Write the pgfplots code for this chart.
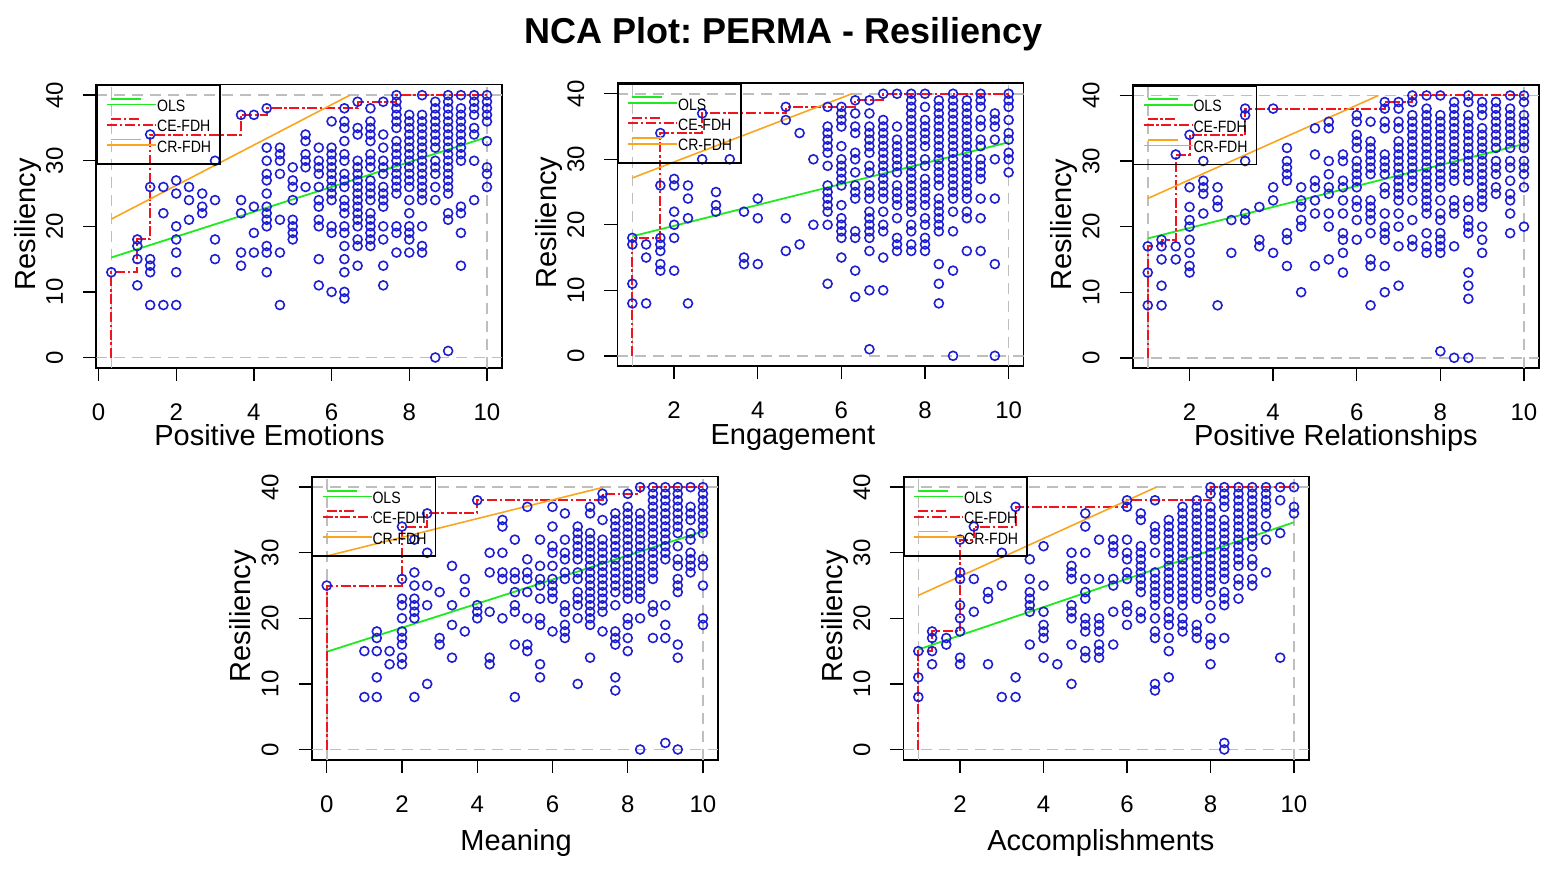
\documentclass[border=0pt]{standalone}
\usepackage{fontspec}
\setmainfont{Liberation Sans}
\newfontfamily\legfont[FakeStretch=0.86]{Liberation Sans}
\usepackage{pgfplots}
\pgfplotsset{compat=1.18}
\frenchspacing
\definecolor{ptblue}{RGB}{30,30,210}
\definecolor{olsgreen}{RGB}{30,235,30}
\definecolor{crorange}{RGB}{250,165,30}
\definecolor{cered}{RGB}{240,20,30}
\definecolor{limgrey}{RGB}{190,190,190}
\pgfplotsset{
 panel/.style={
  scale only axis,
  axis line style={line width=.8pt},
  tick style={black,line width=.7pt},
  tick align=outside, major tick length=6.5pt,
  xtick pos=bottom, ytick pos=left,
  ymin=-1.6,ymax=41.6,ytick={0,10,20,30,40},
  /pgf/number format/assume math mode=true,
  tick label style={font=\fontsize{12}{14}\selectfont},
  xticklabel style={anchor=north,yshift=-7.8pt},
  yticklabel style={rotate=90,anchor=south,yshift=6.5pt},
  ylabel={Resiliency},
  label style={font=\fontsize{14.5}{16}\selectfont},
  ylabel style={at={(axis description cs:-0.168,0.507)},anchor=center,rotate=0},
  legend style={at={(rel axis cs:0,1)},anchor=north west,draw=black,line width=.8pt,fill=none,
    inner xsep=4.5pt,inner ysep=4.5pt,font=\legfont\fontsize{8.2}{9}\selectfont,
    row sep=.2pt,nodes={inner sep=0pt,text height=8.5pt,text depth=1.5pt},cells={anchor=west}},
  legend cell align=left,
  legend image code/.code={\path (0pt,0pt)--(24.5pt,0pt);\draw[##1] (2pt,2.9pt)--(17pt,2.9pt);},
 },
 pts/.style={only marks,mark=o,mark size=2.25pt,mark options={ptblue,line width=.8pt},forget plot},
 lim/.style={limgrey,line width=.75pt,dash pattern=on 5.5pt off 3.5pt,forget plot},
 ols/.style={olsgreen,line width=.9pt,no marks},
 cefdh/.style={cered,line width=1pt,no marks,dash pattern=on 5pt off 1.3pt on 1.3pt off 1.3pt},
 crfdh/.style={crorange,line width=.8pt,no marks},
}
\begin{document}
\begin{tikzpicture}
\path[use as bounding box] (0pt,0pt) rectangle (779.5pt,439pt);
\node[font=\fontsize{18}{20}\selectfont\bfseries,anchor=center] at (391.8pt,421.8pt) {NCA Plot: PERMA - Resiliency};

% ---------- Positive Emotions
\begin{axis}[panel,at={(48.15pt,255pt)},anchor=south west,width=202.85pt,height=141.65pt,
 xmin=-0.057,xmax=10.387,xtick={0,2,4,6,8,10},xlabel={Positive Emotions},
 xlabel style={at={(axis description cs:0.427,-0.272)},anchor=base}]
\addplot[lim] coordinates {(-0.057,0)(10.387,0)};
\addplot[lim] coordinates {(-0.057,40)(10.387,40)};
\addplot[lim] coordinates {(0.33,-1.6)(0.33,41.6)};
\addplot[lim] coordinates {(10,-1.6)(10,41.6)};
\addplot[pts] coordinates {(0.33,13)
(1,18)(1,17)(1,15)(1,11)
(1.33,34)(1.33,26)(1.33,15)(1.33,14)(1.33,13)(1.33,8)
(1.67,26)(1.67,22)(1.67,8)
(2,27)(2,25)(2,20)(2,18)(2,16)(2,13)(2,8)
(2.33,26)(2.33,24)(2.33,21)
(2.67,25)(2.67,23)(2.67,22)
(3,30)(3,24)(3,18)(3,15)
(3.67,37)(3.67,24)(3.67,22)(3.67,16)(3.67,14)
(4,37)(4,23)(4,19)(4,16)
(4.33,38)(4.33,32)(4.33,30)(4.33,28)(4.33,27)(4.33,25)(4.33,23)(4.33,22)(4.33,21)(4.33,20)(4.33,17)(4.33,16)(4.33,13)
(4.67,32)(4.67,31)(4.67,30)(4.67,28)(4.67,21)(4.67,16)(4.67,8)
(5,29)(5,27)(5,26)(5,24)(5,21)(5,20)(5,19)(5,18)
(5.33,34)(5.33,33)(5.33,31)(5.33,30)(5.33,29)(5.33,26)
(5.67,32)(5.67,30)(5.67,29)(5.67,28)(5.67,26)(5.67,24)(5.67,23)(5.67,21)(5.67,20)(5.67,15)(5.67,11)
(6,36)(6,32)(6,31)(6,30)(6,29)(6,28)(6,27)(6,26)(6,25)(6,24)(6,20)(6,19)(6,10)
(6.33,38)(6.33,36)(6.33,35)(6.33,33)(6.33,31)(6.33,30)(6.33,28)(6.33,27)(6.33,26)(6.33,24)(6.33,23)(6.33,22)(6.33,20)(6.33,19)(6.33,17)(6.33,15)(6.33,13)(6.33,10)(6.33,9)
(6.67,39)(6.67,35)(6.67,34)(6.67,30)(6.67,29)(6.67,28)(6.67,27)(6.67,26)(6.67,25)(6.67,24)(6.67,23)(6.67,22)(6.67,21)(6.67,20)(6.67,18)(6.67,17)(6.67,14)
(7,38)(7,36)(7,35)(7,34)(7,33)(7,31)(7,30)(7,29)(7,27)(7,26)(7,25)(7,24)(7,22)(7,21)(7,20)(7,19)(7,18)(7,17)
(7.33,39)(7.33,34)(7.33,32)(7.33,30)(7.33,29)(7.33,28)(7.33,26)(7.33,25)(7.33,24)(7.33,23)(7.33,20)(7.33,18)(7.33,14)(7.33,11)
(7.67,40)(7.67,39)(7.67,38)(7.67,37)(7.67,36)(7.67,35)(7.67,33)(7.67,32)(7.67,31)(7.67,30)(7.67,29)(7.67,28)(7.67,27)(7.67,26)(7.67,25)(7.67,20)(7.67,19)(7.67,16)
(8,37)(8,36)(8,35)(8,34)(8,33)(8,32)(8,31)(8,30)(8,29)(8,28)(8,27)(8,26)(8,24)(8,22)(8,20)(8,19)(8,18)(8,16)
(8.33,40)(8.33,37)(8.33,36)(8.33,35)(8.33,34)(8.33,33)(8.33,32)(8.33,31)(8.33,30)(8.33,29)(8.33,28)(8.33,27)(8.33,26)(8.33,25)(8.33,24)(8.33,20)(8.33,17)(8.33,16)
(8.67,39)(8.67,38)(8.67,37)(8.67,36)(8.67,35)(8.67,34)(8.67,33)(8.67,32)(8.67,30)(8.67,29)(8.67,28)(8.67,26)(8.67,24)(8.67,0)
(9,40)(9,39)(9,38)(9,37)(9,36)(9,35)(9,34)(9,33)(9,32)(9,31)(9,30)(9,29)(9,28)(9,27)(9,26)(9,25)(9,22)(9,21)(9,1)
(9.33,40)(9.33,38)(9.33,37)(9.33,36)(9.33,35)(9.33,34)(9.33,33)(9.33,32)(9.33,31)(9.33,30)(9.33,23)(9.33,22)(9.33,19)(9.33,14)
(9.67,40)(9.67,39)(9.67,38)(9.67,37)(9.67,35)(9.67,34)(9.67,30)(9.67,24)
(10,40)(10,39)(10,38)(10,37)(10,36)(10,33)(10,29)(10,28)(10,26)};
\addplot[ols] coordinates {(0.33,15.25)(10,33.6)};
\addplot[cefdh] coordinates {(0.33,0)(0.33,13)(1,13)(1,18)(1.33,18)(1.33,34)(3.67,34)(3.67,37)(4.33,37)(4.33,38)(6.67,38)(6.67,39)(7.67,39)(7.67,40)(10,40)};
\addplot[crfdh] coordinates {(0.33,21.1)(6.47,40)};
\legend{OLS,CE-FDH,CR-FDH}
\end{axis}

% ---------- Engagement
\begin{axis}[panel,at={(308.65pt,255.85pt)},anchor=south west,width=203.2pt,height=141.5pt,
 xmin=0.64,xmax=10.36,xtick={2,4,6,8,10},xlabel={Engagement},
 xlabel style={at={(axis description cs:0.432,-0.278)},anchor=base}]
\addplot[lim] coordinates {(0.64,0)(10.36,0)};
\addplot[lim] coordinates {(0.64,40)(10.36,40)};
\addplot[lim] coordinates {(1,-1.6)(1,41.6)};
\addplot[lim] coordinates {(10,-1.6)(10,41.6)};
\addplot[pts] coordinates {(1,18)(1,17)(1,11)(1,8)
(1.33,17)(1.33,15)(1.33,8)
(1.67,34)(1.67,26)(1.67,18)(1.67,17)(1.67,16)(1.67,14)(1.67,13)
(2,27)(2,26)(2,22)(2,20)(2,18)(2,13)
(2.33,26)(2.33,24)(2.33,21)(2.33,8)
(2.67,37)(2.67,30)
(3,25)(3,23)(3,22)
(3.33,30)
(3.67,22)(3.67,15)(3.67,14)
(4,24)(4,21)(4,14)
(4.67,38)(4.67,36)(4.67,21)(4.67,16)
(5,34)(5,17)
(5.33,30)(5.33,20)
(5.67,38)(5.67,35)(5.67,34)(5.67,33)(5.67,32)(5.67,31)(5.67,29)(5.67,26)(5.67,25)(5.67,24)(5.67,23)(5.67,22)(5.67,20)(5.67,11)
(6,38)(6,37)(6,36)(6,35)(6,32)(6,30)(6,29)(6,28)(6,27)(6,26)(6,23)(6,21)(6,20)(6,19)(6,18)(6,15)
(6.33,39)(6.33,37)(6.33,35)(6.33,34)(6.33,31)(6.33,30)(6.33,28)(6.33,26)(6.33,25)(6.33,24)(6.33,19)(6.33,18)(6.33,13)(6.33,9)
(6.67,39)(6.67,37)(6.67,35)(6.67,34)(6.67,33)(6.67,32)(6.67,31)(6.67,29)(6.67,28)(6.67,26)(6.67,25)(6.67,24)(6.67,22)(6.67,21)(6.67,20)(6.67,19)(6.67,18)(6.67,16)(6.67,10)(6.67,1)
(7,40)(7,36)(7,35)(7,34)(7,33)(7,32)(7,31)(7,30)(7,29)(7,28)(7,27)(7,26)(7,25)(7,24)(7,22)(7,20)(7,19)(7,15)(7,10)
(7.33,40)(7.33,35)(7.33,33)(7.33,32)(7.33,31)(7.33,30)(7.33,29)(7.33,28)(7.33,26)(7.33,25)(7.33,24)(7.33,23)(7.33,21)(7.33,18)(7.33,17)(7.33,16)
(7.67,40)(7.67,39)(7.67,38)(7.67,37)(7.67,36)(7.67,35)(7.67,34)(7.67,33)(7.67,32)(7.67,31)(7.67,30)(7.67,29)(7.67,28)(7.67,27)(7.67,26)(7.67,25)(7.67,24)(7.67,23)(7.67,22)(7.67,20)(7.67,19)(7.67,17)(7.67,16)
(8,40)(8,38)(8,36)(8,35)(8,34)(8,33)(8,32)(8,30)(8,29)(8,27)(8,26)(8,25)(8,24)(8,23)(8,21)(8,20)(8,18)(8,17)(8,16)
(8.33,39)(8.33,38)(8.33,37)(8.33,36)(8.33,35)(8.33,34)(8.33,33)(8.33,32)(8.33,31)(8.33,30)(8.33,29)(8.33,28)(8.33,27)(8.33,26)(8.33,24)(8.33,23)(8.33,22)(8.33,21)(8.33,20)(8.33,19)(8.33,14)(8.33,11)(8.33,8)
(8.67,40)(8.67,39)(8.67,38)(8.67,37)(8.67,36)(8.67,35)(8.67,34)(8.67,33)(8.67,32)(8.67,31)(8.67,30)(8.67,29)(8.67,28)(8.67,27)(8.67,26)(8.67,25)(8.67,24)(8.67,22)(8.67,19)(8.67,13)(8.67,0)
(9,39)(9,38)(9,37)(9,36)(9,35)(9,34)(9,33)(9,32)(9,31)(9,30)(9,29)(9,28)(9,27)(9,26)(9,25)(9,24)(9,22)(9,21)(9,16)
(9.33,40)(9.33,39)(9.33,38)(9.33,36)(9.33,35)(9.33,33)(9.33,32)(9.33,30)(9.33,29)(9.33,28)(9.33,27)(9.33,24)(9.33,21)(9.33,16)
(9.67,37)(9.67,36)(9.67,35)(9.67,33)(9.67,30)(9.67,24)(9.67,14)(9.67,0)
(10,40)(10,39)(10,38)(10,36)(10,34)(10,33)(10,31)(10,30)(10,28)};
\addplot[ols] coordinates {(1,18.25)(10,32.6)};
\addplot[cefdh] coordinates {(1,0)(1,18)(1.67,18)(1.67,34)(2.67,34)(2.67,37)(4.67,37)(4.67,38)(6.33,38)(6.33,39)(7,39)(7,40)(10,40)};
\addplot[crfdh] coordinates {(1,27.15)(6.25,40)};
\legend{OLS,CE-FDH,CR-FDH}
\end{axis}

% ---------- Positive Relationships
\begin{axis}[panel,at={(566.35pt,254.85pt)},anchor=south west,width=203.15pt,height=141.65pt,
 xmin=0.64,xmax=10.36,xtick={2,4,6,8,10},xlabel={Positive Relationships},
 xlabel style={at={(axis description cs:0.5,-0.271)},anchor=base}]
\addplot[lim] coordinates {(0.64,0)(10.36,0)};
\addplot[lim] coordinates {(0.64,40)(10.36,40)};
\addplot[lim] coordinates {(1,-1.6)(1,41.6)};
\addplot[lim] coordinates {(10,-1.6)(10,41.6)};
\addplot[pts] coordinates {(1,17)(1,13)(1,8)
(1.33,18)(1.33,17)(1.33,15)(1.33,11)(1.33,8)
(1.67,31)(1.67,17)(1.67,15)
(2,34)(2,26)(2,23)(2,21)(2,20)(2,18)(2,16)(2,14)(2,13)
(2.33,30)(2.33,27)(2.33,26)(2.33,25)(2.33,22)
(2.67,26)(2.67,24)(2.67,23)(2.67,8)
(3,21)(3,16)
(3.33,38)(3.33,37)(3.33,30)(3.33,22)(3.33,21)
(3.67,23)(3.67,18)(3.67,17)
(4,38)(4,26)(4,24)(4,16)
(4.33,32)(4.33,30)(4.33,29)(4.33,28)(4.33,27)(4.33,19)(4.33,18)(4.33,14)
(4.67,26)(4.67,24)(4.67,23)(4.67,21)(4.67,20)(4.67,10)
(5,35)(5,31)(5,27)(5,26)(5,24)(5,22)(5,14)
(5.33,36)(5.33,35)(5.33,30)(5.33,28)(5.33,26)(5.33,25)(5.33,22)(5.33,20)(5.33,15)
(5.67,31)(5.67,30)(5.67,27)(5.67,26)(5.67,24)(5.67,22)(5.67,19)(5.67,18)(5.67,16)(5.67,13)
(6,37)(6,36)(6,34)(6,33)(6,32)(6,30)(6,29)(6,28)(6,27)(6,26)(6,24)(6,23)(6,21)(6,18)
(6.33,36)(6.33,33)(6.33,32)(6.33,31)(6.33,30)(6.33,29)(6.33,28)(6.33,24)(6.33,23)(6.33,22)(6.33,21)(6.33,19)(6.33,15)(6.33,14)(6.33,8)
(6.67,39)(6.67,38)(6.67,36)(6.67,35)(6.67,31)(6.67,30)(6.67,29)(6.67,28)(6.67,26)(6.67,25)(6.67,22)(6.67,20)(6.67,19)(6.67,18)(6.67,14)(6.67,10)
(7,39)(7,38)(7,36)(7,35)(7,33)(7,32)(7,31)(7,30)(7,29)(7,28)(7,27)(7,26)(7,25)(7,24)(7,22)(7,20)(7,17)(7,11)
(7.33,40)(7.33,39)(7.33,37)(7.33,36)(7.33,35)(7.33,34)(7.33,33)(7.33,32)(7.33,31)(7.33,30)(7.33,29)(7.33,28)(7.33,27)(7.33,26)(7.33,24)(7.33,21)(7.33,18)(7.33,17)
(7.67,40)(7.67,38)(7.67,37)(7.67,36)(7.67,35)(7.67,34)(7.67,33)(7.67,32)(7.67,31)(7.67,30)(7.67,29)(7.67,28)(7.67,27)(7.67,26)(7.67,25)(7.67,24)(7.67,23)(7.67,22)(7.67,19)(7.67,17)(7.67,16)
(8,40)(8,37)(8,36)(8,35)(8,34)(8,33)(8,32)(8,31)(8,30)(8,29)(8,28)(8,27)(8,26)(8,24)(8,22)(8,21)(8,19)(8,18)(8,17)(8,16)(8,1)
(8.33,39)(8.33,38)(8.33,37)(8.33,36)(8.33,35)(8.33,34)(8.33,33)(8.33,32)(8.33,31)(8.33,30)(8.33,29)(8.33,28)(8.33,27)(8.33,24)(8.33,23)(8.33,22)(8.33,17)(8.33,0)
(8.67,40)(8.67,39)(8.67,37)(8.67,36)(8.67,35)(8.67,34)(8.67,33)(8.67,32)(8.67,31)(8.67,30)(8.67,29)(8.67,28)(8.67,27)(8.67,24)(8.67,23)(8.67,21)(8.67,20)(8.67,19)(8.67,13)(8.67,11)(8.67,9)(8.67,0)
(9,39)(9,38)(9,37)(9,35)(9,34)(9,33)(9,32)(9,31)(9,30)(9,29)(9,28)(9,27)(9,26)(9,25)(9,24)(9,23)(9,20)(9,18)(9,16)
(9.33,39)(9.33,38)(9.33,37)(9.33,36)(9.33,35)(9.33,34)(9.33,33)(9.33,32)(9.33,30)(9.33,29)(9.33,28)(9.33,26)(9.33,25)
(9.67,40)(9.67,38)(9.67,37)(9.67,36)(9.67,35)(9.67,34)(9.67,33)(9.67,32)(9.67,30)(9.67,29)(9.67,27)(9.67,25)(9.67,24)(9.67,22)(9.67,19)
(10,40)(10,39)(10,37)(10,36)(10,35)(10,34)(10,33)(10,32)(10,30)(10,29)(10,28)(10,26)(10,20)};
\addplot[ols] coordinates {(1,18.2)(10,32.6)};
\addplot[cefdh] coordinates {(1,0)(1,17)(1.33,17)(1.33,18)(1.67,18)(1.67,31)(2,31)(2,34)(3.33,34)(3.33,38)(6.67,38)(6.67,39)(7.33,39)(7.33,40)(10,40)};
\addplot[crfdh] coordinates {(1,24.3)(6.52,40)};
\legend{OLS,CE-FDH,CR-FDH}
\end{axis}

% ---------- Meaning
\begin{axis}[panel,at={(155.85pt,59pt)},anchor=south west,width=203.15pt,height=141.65pt,
 xmin=-0.4,xmax=10.4,xtick={0,2,4,6,8,10},xlabel={Meaning},
 xlabel style={at={(axis description cs:0.503,-0.318)},anchor=base}]
\addplot[lim] coordinates {(-0.4,0)(10.4,0)};
\addplot[lim] coordinates {(-0.4,40)(10.4,40)};
\addplot[lim] coordinates {(0,-1.6)(0,41.6)};
\addplot[lim] coordinates {(10,-1.6)(10,41.6)};
\addplot[pts] coordinates {(0,25)
(1,15)(1,8)
(1.33,18)(1.33,17)(1.33,15)(1.33,11)(1.33,8)
(1.67,15)(1.67,13)
(2,34)(2,26)(2,23)(2,22)(2,20)(2,18)(2,17)(2,16)(2,14)(2,13)
(2.33,32)(2.33,27)(2.33,25)(2.33,23)(2.33,22)(2.33,21)(2.33,20)(2.33,8)
(2.67,36)(2.67,30)(2.67,25)(2.67,22)(2.67,10)
(3,24)(3,17)(3,16)
(3.33,28)(3.33,22)(3.33,19)(3.33,14)
(3.67,26)(3.67,24)(3.67,18)
(4,38)(4,22)(4,21)(4,20)
(4.33,30)(4.33,27)(4.33,21)(4.33,14)(4.33,13)
(4.67,35)(4.67,34)(4.67,30)(4.67,27)(4.67,26)(4.67,20)
(5,32)(5,27)(5,26)(5,24)(5,22)(5,21)(5,16)(5,8)
(5.33,37)(5.33,29)(5.33,27)(5.33,26)(5.33,24)(5.33,20)(5.33,16)(5.33,15)
(5.67,32)(5.67,28)(5.67,26)(5.67,25)(5.67,23)(5.67,20)(5.67,19)(5.67,13)(5.67,11)
(6,37)(6,34)(6,31)(6,30)(6,28)(6,26)(6,25)(6,24)(6,23)(6,18)
(6.33,36)(6.33,32)(6.33,30)(6.33,29)(6.33,27)(6.33,26)(6.33,22)(6.33,21)(6.33,19)(6.33,18)(6.33,17)
(6.67,34)(6.67,33)(6.67,32)(6.67,31)(6.67,30)(6.67,29)(6.67,27)(6.67,26)(6.67,24)(6.67,23)(6.67,22)(6.67,20)(6.67,10)
(7,37)(7,36)(7,33)(7,32)(7,31)(7,30)(7,29)(7,28)(7,27)(7,26)(7,25)(7,24)(7,23)(7,22)(7,21)(7,20)(7,19)(7,14)
(7.33,39)(7.33,38)(7.33,35)(7.33,32)(7.33,31)(7.33,30)(7.33,29)(7.33,28)(7.33,27)(7.33,26)(7.33,25)(7.33,24)(7.33,23)(7.33,22)(7.33,21)(7.33,18)
(7.67,36)(7.67,35)(7.67,34)(7.67,33)(7.67,32)(7.67,31)(7.67,30)(7.67,29)(7.67,28)(7.67,27)(7.67,26)(7.67,25)(7.67,24)(7.67,22)(7.67,18)(7.67,17)(7.67,16)(7.67,11)(7.67,9)
(8,39)(8,37)(8,36)(8,35)(8,34)(8,33)(8,32)(8,31)(8,30)(8,29)(8,28)(8,27)(8,26)(8,25)(8,24)(8,23)(8,20)(8,19)(8,17)(8,15)
(8.33,40)(8.33,36)(8.33,35)(8.33,34)(8.33,33)(8.33,32)(8.33,31)(8.33,30)(8.33,29)(8.33,28)(8.33,27)(8.33,26)(8.33,25)(8.33,24)(8.33,23)(8.33,20)(8.33,0)
(8.67,40)(8.67,39)(8.67,38)(8.67,37)(8.67,36)(8.67,35)(8.67,34)(8.67,33)(8.67,32)(8.67,31)(8.67,30)(8.67,29)(8.67,28)(8.67,27)(8.67,26)(8.67,22)(8.67,21)(8.67,17)
(9,40)(9,39)(9,38)(9,37)(9,36)(9,35)(9,34)(9,33)(9,32)(9,31)(9,30)(9,29)(9,22)(9,19)(9,17)(9,1)
(9.33,40)(9.33,39)(9.33,38)(9.33,37)(9.33,36)(9.33,35)(9.33,34)(9.33,33)(9.33,31)(9.33,29)(9.33,28)(9.33,26)(9.33,25)(9.33,24)(9.33,16)(9.33,14)(9.33,0)
(9.67,40)(9.67,37)(9.67,36)(9.67,35)(9.67,33)(9.67,32)(9.67,30)(9.67,29)(9.67,28)(9.67,27)
(10,40)(10,39)(10,38)(10,37)(10,36)(10,35)(10,34)(10,33)(10,29)(10,28)(10,25)(10,20)(10,19)};
\addplot[ols] coordinates {(0,14.9)(10,33.25)};
\addplot[cefdh] coordinates {(0,0)(0,25)(2,25)(2,34)(2.67,34)(2.67,36)(4,36)(4,38)(7.33,38)(7.33,39)(8.33,39)(8.33,40)(10,40)};
\addplot[crfdh] coordinates {(0,29.5)(7.36,40)};
\legend{OLS,CE-FDH,CR-FDH}
\end{axis}

% ---------- Accomplishments
\begin{axis}[panel,at={(451.65pt,59pt)},anchor=south west,width=202.85pt,height=141.65pt,
 xmin=0.64,xmax=10.36,xtick={2,4,6,8,10},xlabel={Accomplishments},
 xlabel style={at={(axis description cs:0.487,-0.318)},anchor=base}]
\addplot[lim] coordinates {(0.64,0)(10.36,0)};
\addplot[lim] coordinates {(0.64,40)(10.36,40)};
\addplot[lim] coordinates {(1,-1.6)(1,41.6)};
\addplot[lim] coordinates {(10,-1.6)(10,41.6)};
\addplot[pts] coordinates {(1,15)(1,11)(1,8)
(1.33,18)(1.33,17)(1.33,15)(1.33,13)
(1.67,17)(1.67,16)
(2,32)(2,27)(2,26)(2,22)(2,20)(2,18)(2,14)(2,13)
(2.33,34)(2.33,26)(2.33,21)
(2.67,24)(2.67,23)(2.67,13)
(3,30)(3,25)(3,8)
(3.33,37)(3.33,11)(3.33,8)
(3.67,29)(3.67,26)(3.67,24)(3.67,23)(3.67,22)(3.67,21)(3.67,16)
(4,31)(4,25)(4,21)(4,19)(4,18)(4,17)(4,14)
(4.33,13)
(4.67,30)(4.67,28)(4.67,27)(4.67,26)(4.67,22)(4.67,21)(4.67,20)(4.67,16)(4.67,10)
(5,36)(5,34)(5,30)(5,26)(5,24)(5,23)(5,20)(5,19)(5,18)(5,15)(5,14)
(5.33,32)(5.33,26)(5.33,20)(5.33,19)(5.33,18)(5.33,16)(5.33,15)(5.33,14)
(5.67,32)(5.67,31)(5.67,30)(5.67,26)(5.67,25)(5.67,21)(5.67,16)
(6,38)(6,37)(6,32)(6,30)(6,29)(6,27)(6,26)(6,22)(6,21)(6,19)
(6.33,36)(6.33,35)(6.33,31)(6.33,30)(6.33,29)(6.33,28)(6.33,27)(6.33,26)(6.33,25)(6.33,24)(6.33,21)(6.33,20)
(6.67,38)(6.67,34)(6.67,33)(6.67,32)(6.67,30)(6.67,27)(6.67,26)(6.67,25)(6.67,24)(6.67,23)(6.67,22)(6.67,20)(6.67,18)(6.67,17)(6.67,10)(6.67,9)
(7,35)(7,34)(7,33)(7,32)(7,31)(7,30)(7,29)(7,28)(7,27)(7,26)(7,25)(7,24)(7,23)(7,21)(7,20)(7,19)(7,17)(7,15)(7,11)
(7.33,37)(7.33,36)(7.33,35)(7.33,34)(7.33,33)(7.33,32)(7.33,31)(7.33,30)(7.33,29)(7.33,28)(7.33,27)(7.33,26)(7.33,25)(7.33,24)(7.33,23)(7.33,22)(7.33,20)(7.33,19)(7.33,18)
(7.67,38)(7.67,37)(7.67,36)(7.67,35)(7.67,34)(7.67,33)(7.67,32)(7.67,31)(7.67,30)(7.67,29)(7.67,28)(7.67,27)(7.67,26)(7.67,25)(7.67,24)(7.67,23)(7.67,19)(7.67,18)(7.67,17)
(8,40)(8,39)(8,37)(8,36)(8,35)(8,34)(8,33)(8,32)(8,31)(8,30)(8,29)(8,28)(8,27)(8,26)(8,25)(8,24)(8,22)(8,20)(8,17)(8,16)(8,13)
(8.33,40)(8.33,39)(8.33,38)(8.33,37)(8.33,35)(8.33,34)(8.33,33)(8.33,32)(8.33,31)(8.33,30)(8.33,29)(8.33,28)(8.33,27)(8.33,26)(8.33,24)(8.33,23)(8.33,22)(8.33,17)(8.33,1)(8.33,0)
(8.67,40)(8.67,39)(8.67,38)(8.67,37)(8.67,36)(8.67,35)(8.67,34)(8.67,33)(8.67,32)(8.67,31)(8.67,30)(8.67,29)(8.67,28)(8.67,26)(8.67,25)(8.67,23)
(9,40)(9,39)(9,38)(9,37)(9,36)(9,35)(9,34)(9,33)(9,32)(9,31)(9,29)(9,28)(9,26)(9,25)
(9.33,40)(9.33,39)(9.33,38)(9.33,37)(9.33,36)(9.33,34)(9.33,32)(9.33,27)
(9.67,40)(9.67,38)(9.67,33)(9.67,14)
(10,40)(10,37)(10,36)};
\addplot[ols] coordinates {(1,15.25)(10,34.65)};
\addplot[cefdh] coordinates {(1,0)(1,15)(1.33,15)(1.33,18)(2,18)(2,32)(2.33,32)(2.33,34)(3.33,34)(3.33,37)(6,37)(6,38)(8,38)(8,40)(10,40)};
\addplot[crfdh] coordinates {(1,23.5)(6.7,40)};
\legend{OLS,CE-FDH,CR-FDH}
\end{axis}
\end{tikzpicture}
\end{document}
